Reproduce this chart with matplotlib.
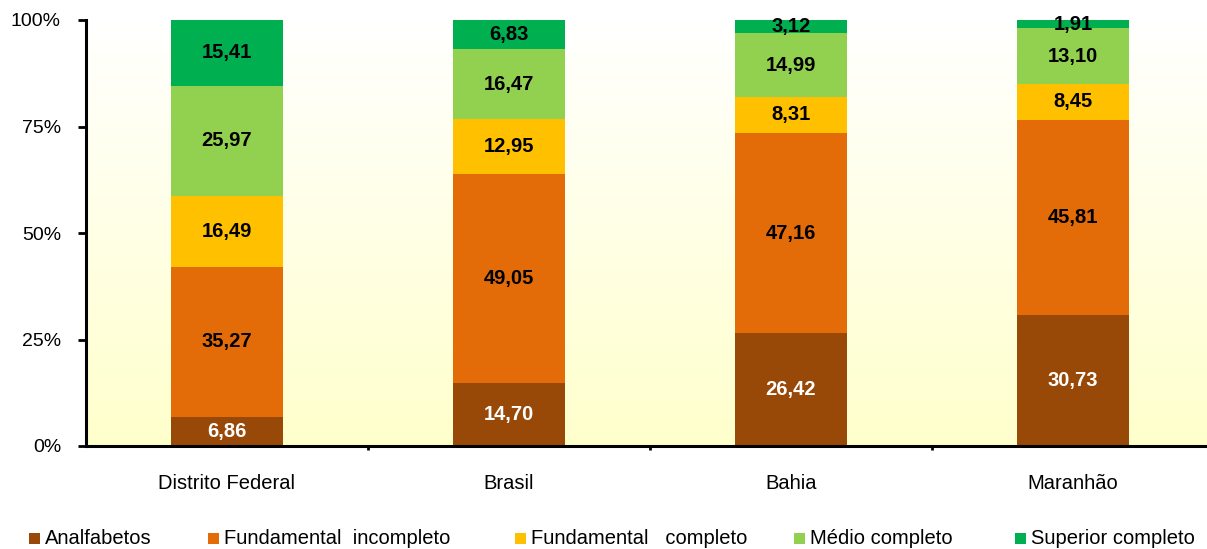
import numpy as np
import matplotlib.pyplot as plt
from matplotlib.patches import Rectangle

plt.rcParams['font.family'] = ['Liberation Sans', 'DejaVu Sans']

regions = ['Distrito Federal', 'Brasil', 'Bahia', 'Maranhão']
levels = ['Analfabetos', 'Fundamental  incompleto', 'Fundamental   completo',
          'Médio completo', 'Superior completo']
analfabetos = [6.86, 14.70, 26.42, 30.73]
fund_incompleto = [35.27, 49.05, 47.16, 45.81]
fund_completo = [16.49, 12.95, 8.31, 8.45]
medio_completo = [25.97, 16.47, 14.99, 13.10]
superior_completo = [15.41, 6.83, 3.12, 1.91]

series = [analfabetos, fund_incompleto, fund_completo, medio_completo, superior_completo]
colors = ['#984807', '#E36C09', '#FFC000', '#92D050', '#00B050']
label_colors = ['white', 'black', 'black', 'black', 'black']

W, H = 1207, 549
fig = plt.figure(figsize=(W / 100, H / 100), dpi=100)
ax = fig.add_axes([86 / W, 1 - 446 / H, 1128 / W, 426 / H])

# soft white-to-yellow gradient behind the bars
grad = np.linspace(0, 1, 256).reshape(-1, 1)
top = np.array([1.0, 1.0, 1.0])
bottom = np.array([1.0, 1.0, 0.80])
img = top + (bottom - top) * grad[..., None]
ax.imshow(img, extent=[-0.5, 3.5, 0, 100], aspect='auto', zorder=0, origin='upper')

x = np.arange(len(regions))
base = np.zeros(len(regions))
for vals, col, lcol in zip(series, colors, label_colors):
    vals = np.array(vals)
    ax.bar(x, vals, bottom=base, width=0.4, color=col, zorder=2)
    for xi, b, v in zip(x, base, vals):
        ax.text(xi, b + v / 2, f'{v:.2f}'.replace('.', ','), ha='center', va='center',
                fontsize=14.5, fontweight='bold', color=lcol, zorder=3)
    base += vals

ax.set_xlim(-0.5, 3.5)
ax.set_ylim(0, 100)
ax.set_yticks([0, 25, 50, 75, 100])
ax.set_yticklabels(['0%', '25%', '50%', '75%', '100%'], fontsize=14)
ax.set_xticks([0.5, 1.5, 2.5])
ax.set_xticklabels([])
ax.set_xticks(x, minor=True)
ax.set_xticklabels(regions, minor=True, fontsize=14.5)
ax.tick_params(axis='x', which='minor', length=0, pad=20)
ax.tick_params(axis='x', which='major', length=3, width=2)
ax.tick_params(axis='y', length=6, width=2, pad=12)

for side in ['top', 'right']:
    ax.spines[side].set_visible(False)
for side in ['left', 'bottom']:
    ax.spines[side].set_linewidth(2.2)

# legend row along the bottom
legend_x = [29, 208, 515, 794, 1015]
legend_y = 538
sq = 11
for lx, col, name in zip(legend_x, colors, levels):
    fig.add_artist(Rectangle((lx / W, 1 - (legend_y + sq / 2) / H), sq / W, sq / H,
                             transform=fig.transFigure, facecolor=col, edgecolor='none'))
    fig.text((lx + sq + 5) / W, 1 - legend_y / H, name, ha='left', va='center',
             fontsize=14.5)

fig.savefig('out.png', dpi=100)
